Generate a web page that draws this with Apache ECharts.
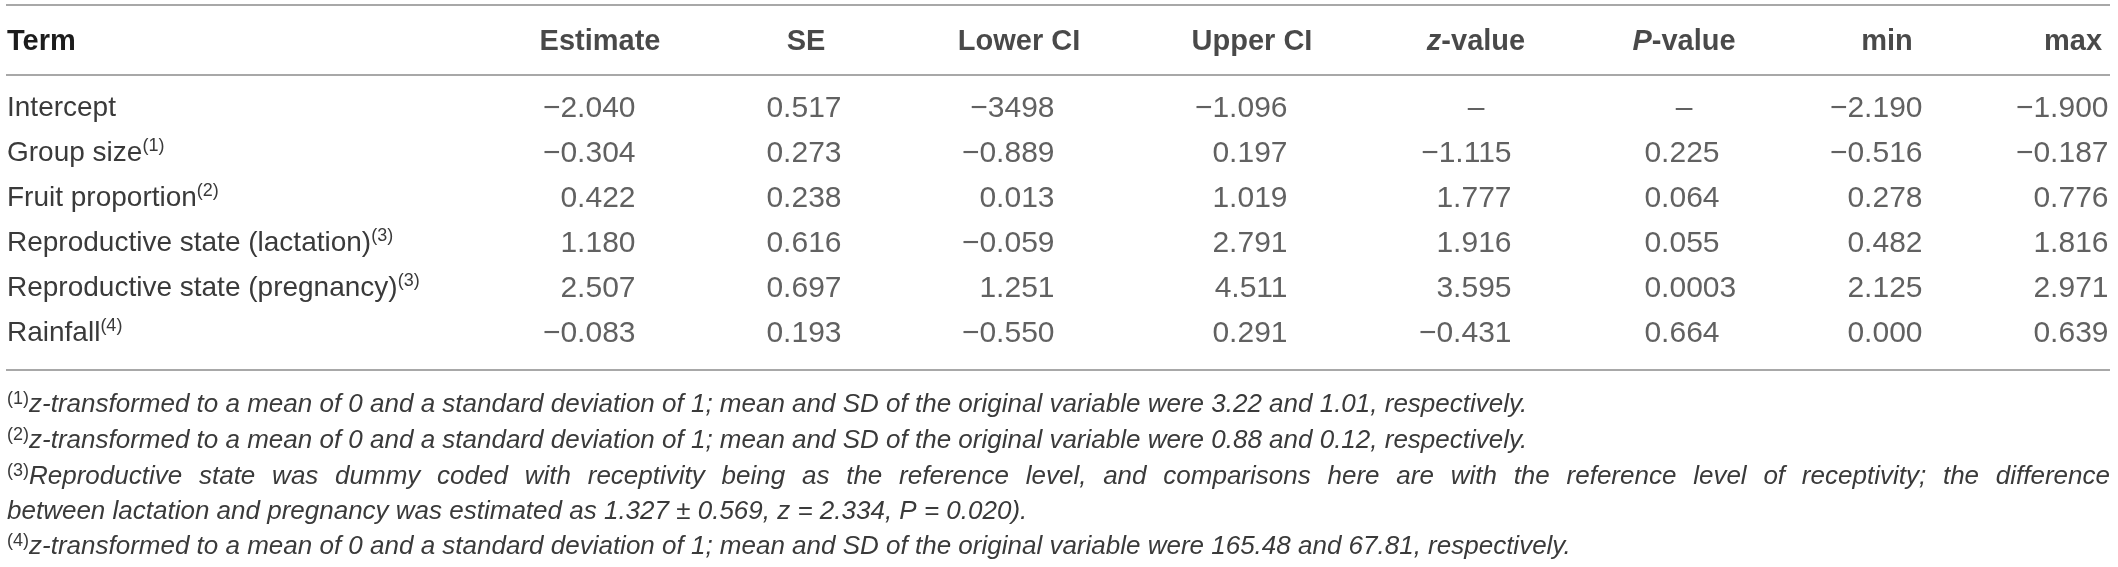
<!DOCTYPE html>
<html>
<head>
<meta charset="utf-8">
<script src="https://cdn.jsdelivr.net/npm/echarts@6/dist/echarts.min.js"></script>
<style>
html,body{margin:0;padding:0;background:#ffffff;}
#c{width:2118px;height:567px;}
</style>
</head>
<body>
<div id="c"></div>
<script>
// ---------------- data ----------------
const headerTerm = 'Term';
const headers = ['Estimate', 'SE', 'Lower CI', 'Upper CI', 'z-value', 'P-value', 'min', 'max'];
const terms = ['Intercept', 'Group size', 'Fruit proportion', 'Reproductive state (lactation)', 'Reproductive state (pregnancy)', 'Rainfall'];
const termNotes = ['', '(1)', '(2)', '(3)', '(3)', '(4)'];
const estimate = ['−2.040', '−0.304', '0.422', '1.180', '2.507', '−0.083'];
const se = ['0.517', '0.273', '0.238', '0.616', '0.697', '0.193'];
const lowerCI = ['−3498', '−0.889', '0.013', '−0.059', '1.251', '−0.550'];
const upperCI = ['−1.096', '0.197', '1.019', '2.791', '4.511', '0.291'];
const zValue = ['–', '−1.115', '1.777', '1.916', '3.595', '−0.431'];
const pValue = ['–', '0.225', '0.064', '0.055', '0.0003', '0.664'];
const minVal = ['−2.190', '−0.516', '0.278', '0.482', '2.125', '0.000'];
const maxVal = ['−1.900', '−0.187', '0.776', '1.816', '2.971', '0.639'];
const footRefs = ['(1)', '(2)', '(3)', '', '(4)'];
const footTexts = [
  'z-transformed to a mean of 0 and a standard deviation of 1; mean and SD of the original variable were 3.22 and 1.01, respectively.',
  'z-transformed to a mean of 0 and a standard deviation of 1; mean and SD of the original variable were 0.88 and 0.12, respectively.',
  'Reproductive state was dummy coded with receptivity being as the reference level, and comparisons here are with the reference level of receptivity; the difference',
  'between lactation and pregnancy was estimated as 1.327 ± 0.569, z = 2.334, P = 0.020).',
  'z-transformed to a mean of 0 and a standard deviation of 1; mean and SD of the original variable were 165.48 and 67.81, respectively.'
];
const footJustify = [false, false, true, false, false];

// ---------------- layout / style ----------------
const W = 2118, H = 567;
const FONT = '"Liberation Sans", Arial, Helvetica, sans-serif';
const BODY = '#3a3a3a', HEAD = '#1c1c1c', RULE = '#a8a8a8';
const FS = 28, NFS = 30, HFS = 29, SUP = 18, FFS = 26, FSUP = 18;
const DIGIT = NFS * 0.556;
const colRight = [636, 842, 1055, 1288, 1512, 1720, 1923, 2109];
const HEAD_SHIFT = 36;
const rules = [5, 75, 370];
const footY = [405, 441, 477, 512, 547];
const LEFT = 7, RIGHT = 2110;
const CLEAR = 'rgba(0,0,0,0)';

const columns = [estimate, se, lowerCI, upperCI, zValue, pValue, minVal, maxVal];

const mctx = document.createElement('canvas').getContext('2d');
function tw(text, font) { mctx.font = font; return mctx.measureText(text).width; }

const chart = echarts.init(document.getElementById('c'), null, {width: W, height: H});

const bodySeries = columns.map((col, j) => ({
  type: 'scatter', xAxisIndex: 0, yAxisIndex: 0, symbolSize: 1, silent: true,
  itemStyle: {color: CLEAR},
  data: col.map((txt, i) => {
    const dash = txt === '–';
    const dec = (txt.split('.')[1] || '').length;
    return {
      name: txt,
      value: [dash ? colRight[j] - HEAD_SHIFT : colRight[j], i],
      label: dash ? {position: 'inside'} : {offset: [Math.max(0, dec - 3) * DIGIT, 0]}
    };
  }),
  label: {show: true, position: 'left', distance: 0, formatter: '{b}',
    fontSize: NFS, fontFamily: FONT, color: BODY}
}));

const headerSeries = {
  type: 'scatter', xAxisIndex: 1, yAxisIndex: 1, symbolSize: 1, silent: true,
  itemStyle: {color: CLEAR},
  data: headers.map((h, j) => ({name: h, value: [colRight[j] - HEAD_SHIFT, 0]})),
  label: {
    show: true, position: 'inside',
    formatter: p => {
      const h = p.name, k = h.indexOf('-');
      return k === 1 ? '{hi|' + h.slice(0, 1) + '}{h|' + h.slice(1) + '}' : '{h|' + h + '}';
    },
    rich: {
      h: {fontSize: HFS, fontWeight: 'bold', fontFamily: FONT, color: HEAD},
      hi: {fontSize: HFS, fontWeight: 'bold', fontStyle: 'italic', fontFamily: FONT, color: HEAD}
    }
  }
};

// footnotes
const fItal = 'italic ' + FFS + 'px "Liberation Sans"';
const fSup = FSUP + 'px "Liberation Sans"';
const footGraphics = footTexts.map((t, k) => {
  let txt;
  const ref = footRefs[k] ? '{s|' + footRefs[k] + '}' : '';
  const rich = {
    s: {fontSize: FSUP, fontFamily: FONT, color: BODY, verticalAlign: 'top', lineHeight: 30},
    i: {fontSize: FFS, fontStyle: 'italic', fontFamily: FONT, color: BODY, lineHeight: 30}
  };
  if (footJustify[k]) {
    const words = t.split(' ');
    const wsum = words.reduce((a, w) => a + tw(w, fItal), 0);
    const refW = footRefs[k] ? tw(footRefs[k], fSup) : 0;
    const gap = (RIGHT - LEFT - refW - wsum) / (words.length - 1);
    rich.sp = {width: gap, fontSize: FFS, lineHeight: 30};
    txt = ref + words.map(w => '{i|' + w + '}').join('{sp| }');
  } else {
    txt = ref + '{i|' + t + '}';
  }
  return {type: 'text', x: LEFT, y: footY[k], silent: true,
    style: {text: txt, rich: rich, verticalAlign: 'middle', align: 'left', fontFamily: FONT, fill: BODY}};
});

const ruleGraphics = rules.map(y => ({
  type: 'line', silent: true,
  shape: {x1: LEFT - 1, y1: y, x2: RIGHT, y2: y},
  style: {stroke: RULE, lineWidth: 2}
}));

const option = {
  animation: false,
  backgroundColor: '#ffffff',
  grid: [
    {left: 0, right: 0, top: 86, height: 270, outerBoundsMode: 'none', containLabel: false},
    {left: 0, right: 0, top: 20, height: 44, outerBoundsMode: 'none', containLabel: false}
  ],
  xAxis: [
    {type: 'value', gridIndex: 0, min: 0, max: W, show: false},
    {type: 'value', gridIndex: 1, min: 0, max: W, show: false}
  ],
  yAxis: [
    {
      type: 'category', gridIndex: 0, data: terms, inverse: true,
      axisLine: {show: false}, axisTick: {show: false}, splitLine: {show: false},
      axisLabel: {
        inside: true, margin: LEFT,
        formatter: (v, i) => '{t|' + v + '}' + (termNotes[i] ? '{s|' + termNotes[i] + '}' : ''),
        rich: {
          t: {fontSize: FS, fontFamily: FONT, color: BODY, lineHeight: 32},
          s: {fontSize: SUP, fontFamily: FONT, color: BODY, verticalAlign: 'top', lineHeight: 32}
        }
      }
    },
    {
      type: 'category', gridIndex: 1, data: [headerTerm],
      axisLine: {show: false}, axisTick: {show: false}, splitLine: {show: false},
      axisLabel: {inside: true, margin: LEFT, fontSize: HFS, fontWeight: 'bold', fontFamily: FONT, color: HEAD}
    }
  ],
  series: bodySeries.concat([headerSeries]),
  graphic: ruleGraphics.concat(footGraphics)
};
chart.setOption(option);
</script>
</body>
</html>
